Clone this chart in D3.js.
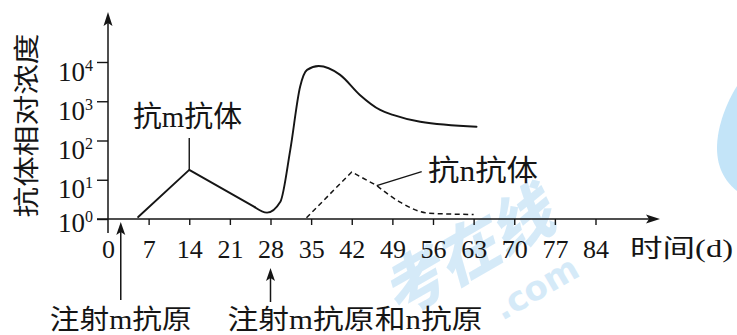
<!DOCTYPE html>
<html><head><meta charset="utf-8">
<script src="https://cdn.jsdelivr.net/npm/d3@7"></script>
<style>
html,body{margin:0;padding:0;background:#fff;}
svg{display:block;}
</style></head><body>
<svg id="chart" width="737" height="335"></svg>
<script>
// Time axis (days)
const dayTicks = [0, 7, 14, 21, 28, 35, 42, 49, 56, 63, 70, 77, 84];
// Relative antibody concentration ticks (log scale)
const concTicks = [1, 10, 100, 1000, 10000];

// Anti-m antibody, primary response (straight rise and fall)
const mPrimaryDays = [5.2, 14, 25.3];
const mPrimaryConc = [1.12, 17.8, 2.0];
// Anti-m antibody, secondary response
const mSecondaryDays = [25.3, 27.4, 29.7, 31.4, 33.1, 34.3, 36.3, 40.0, 43.4, 46.9, 49.1, 53.8, 63.5];
const mSecondaryConc = [2.0, 1.45, 2.75, 57, 2340, 6300, 7900, 4700, 1450, 600, 450, 300, 225];

// Anti-n antibody, primary response
const nRiseDays = [34.2, 42, 46.3];
const nRiseConc = [1.07, 15.8, 7.1];
const nTailDays = [46.3, 50.5, 55.2, 63];
const nTailConc = [7.1, 2.6, 1.41, 1.3];

// Injection events
const injectDays = [2.2, 28];
const injectLabels = ["注射m抗原", "注射m抗原和n抗原"];

const serif = "'Liberation Serif','Noto Sans CJK SC',serif";
const ink = "#151515";

const svg = d3.select("#chart");

const x = d3.scaleLinear().domain([0, 84]).range([108, 595.5]);
const y = d3.scaleLog().domain([1, 10000]).range([219, 62]);

// ---- watermark (pale blue, behind everything)
const wm = svg.append("g").attr("fill", "#c4e2f6");
wm.append("path")
  .attr("d", "M737,86 C727,102 717,126 717,148 C717,170 727,183 737,191 Z")
  .attr("fill", "#c3e4f8");
wm.append("text")
  .attr("transform", "translate(478,272) rotate(-30) skewX(-14)")
  .attr("text-anchor", "middle")
  .attr("font-family", "'Noto Sans CJK SC',sans-serif")
  .attr("font-weight", 900)
  .attr("font-size", 62)
  .attr("opacity", 0.7)
  .text("考在线");
wm.append("text")
  .attr("transform", "translate(542,298) rotate(-30)")
  .attr("text-anchor", "middle")
  .attr("font-family", "'DejaVu Sans',sans-serif")
  .attr("font-weight", 700)
  .attr("font-size", 34)
  .attr("opacity", 0.7)
  .text(".com");

// ---- x axis
const xAxis = svg.append("g")
  .attr("transform", `translate(0,${y(1)})`)
  .call(d3.axisBottom(x).tickValues(dayTicks).tickSize(6).tickSizeOuter(0));
xAxis.select(".domain").remove();
xAxis.selectAll(".tick line").attr("stroke", ink).attr("stroke-width", 1.4)
  .filter(d => d === 0).remove();
xAxis.selectAll(".tick text")
  .attr("y", 39).attr("dy", 0)
  .attr("font-family", serif).attr("font-size", 26).attr("fill", ink);

// ---- y axis
const yAxis = svg.append("g")
  .attr("transform", `translate(${x(0)},0)`)
  .call(d3.axisLeft(y).tickValues(concTicks).tickSize(11).tickSizeOuter(0).tickFormat(""));
yAxis.select(".domain").remove();
yAxis.selectAll(".tick line").attr("stroke", ink).attr("stroke-width", 1.4);
yAxis.selectAll(".tick text").remove();
yAxis.selectAll(".tick").each(function (d) {
  const t = d3.select(this).append("text")
    .attr("x", -15)
    .attr("y", d === 1 ? 12 : 18)
    .attr("text-anchor", "end")
    .attr("font-family", serif)
    .attr("fill", ink);
  t.append("tspan").attr("font-size", 27).text("10");
  t.append("tspan").attr("font-size", 16).attr("dy", -10).text(Math.round(Math.log10(d)));
});

// axis lines with arrowheads
const axisG = svg.append("g").attr("stroke", ink).attr("stroke-width", 1.5).attr("fill", "none");
axisG.append("line").attr("x1", x(0) - 11).attr("x2", 650).attr("y1", y(1)).attr("y2", y(1));
axisG.append("line").attr("x1", x(0)).attr("x2", x(0)).attr("y1", y(1) + 14).attr("y2", 22);
svg.append("path").attr("fill", ink)
  .attr("d", `M660,${y(1)} L646,${y(1) - 4.5} L649,${y(1)} L646,${y(1) + 4.5} Z`);
svg.append("path").attr("fill", ink)
  .attr("d", `M${x(0)},12 L${x(0) - 4.5},26 L${x(0)},23 L${x(0) + 4.5},26 Z`);

// x axis title
svg.append("text")
  .attr("x", 630).attr("y", 257)
  .attr("font-family", serif).attr("font-size", 25).attr("fill", ink)
  .attr("textLength", 103).attr("lengthAdjust", "spacingAndGlyphs")
  .text("时间(d)");

// y axis title
svg.append("text")
  .attr("transform", "translate(36,125.5) rotate(-90)")
  .attr("text-anchor", "middle")
  .attr("font-family", serif).attr("font-size", 26).attr("fill", ink)
  .attr("textLength", 184).attr("lengthAdjust", "spacingAndGlyphs")
  .text("抗体相对浓度");

// ---- curves
const zip = (ds, cs) => ds.map((d, i) => [d, cs[i]]);
const straight = d3.line().x(d => x(d[0])).y(d => y(d[1]));
const smooth = d3.line().x(d => x(d[0])).y(d => y(d[1])).curve(d3.curveMonotoneX);

const curves = svg.append("g").attr("fill", "none").attr("stroke", ink)
  .attr("stroke-linejoin", "round").attr("stroke-linecap", "round");
curves.append("path").attr("stroke-width", 1.9).attr("d", straight(zip(mPrimaryDays, mPrimaryConc)));
curves.append("path").attr("stroke-width", 1.9).attr("d", smooth(zip(mSecondaryDays, mSecondaryConc)));
curves.append("path").attr("stroke-width", 1.5).attr("stroke-dasharray", "5,3.5").attr("stroke-linecap", "butt")
  .attr("d", straight(zip(nRiseDays, nRiseConc)) + smooth(zip(nTailDays, nTailConc)).replace(/^M[^CL]*/, ""));

// ---- series labels with leader lines
const mPeakX = x(mPrimaryDays[1]), mPeakY = y(mPrimaryConc[1]);
svg.append("line").attr("x1", mPeakX).attr("x2", mPeakX).attr("y1", mPeakY).attr("y2", 138)
  .attr("stroke", ink).attr("stroke-width", 1.4);
svg.append("text")
  .attr("x", 133).attr("y", 127)
  .attr("font-family", serif).attr("font-size", 29).attr("fill", ink)
  .attr("textLength", 109).attr("lengthAdjust", "spacingAndGlyphs")
  .text("抗m抗体");

const nPtX = x(nRiseDays[2]), nPtY = y(nRiseConc[2]);
svg.append("line").attr("x1", nPtX).attr("y1", nPtY).attr("x2", 421.7).attr("y2", 171.7)
  .attr("stroke", ink).attr("stroke-width", 1.4);
svg.append("text")
  .attr("x", 428).attr("y", 181)
  .attr("font-family", serif).attr("font-size", 29).attr("fill", ink)
  .attr("textLength", 110).attr("lengthAdjust", "spacingAndGlyphs")
  .text("抗n抗体");

// ---- injection arrows and labels
const arrowTop = [222, 268];
const arrowBottom = [300, 302];
injectDays.forEach((d, i) => {
  const ax = x(d);
  svg.append("line").attr("x1", ax).attr("x2", ax)
    .attr("y1", arrowTop[i] + 10).attr("y2", arrowBottom[i])
    .attr("stroke", ink).attr("stroke-width", 1.5);
  svg.append("path").attr("fill", ink)
    .attr("d", `M${ax},${arrowTop[i]} L${ax - 4.5},${arrowTop[i] + 13} L${ax},${arrowTop[i] + 10} L${ax + 4.5},${arrowTop[i] + 13} Z`);
});
svg.append("text")
  .attr("x", x(injectDays[0])).attr("y", 329).attr("text-anchor", "middle")
  .attr("font-family", serif).attr("font-size", 27).attr("fill", ink)
  .attr("textLength", 142).attr("lengthAdjust", "spacingAndGlyphs")
  .text(injectLabels[0]);
svg.append("text")
  .attr("x", x(injectDays[1]) - 43).attr("y", 329)
  .attr("font-family", serif).attr("font-size", 27).attr("fill", ink)
  .attr("textLength", 255).attr("lengthAdjust", "spacingAndGlyphs")
  .text(injectLabels[1]);
</script>
</body></html>
